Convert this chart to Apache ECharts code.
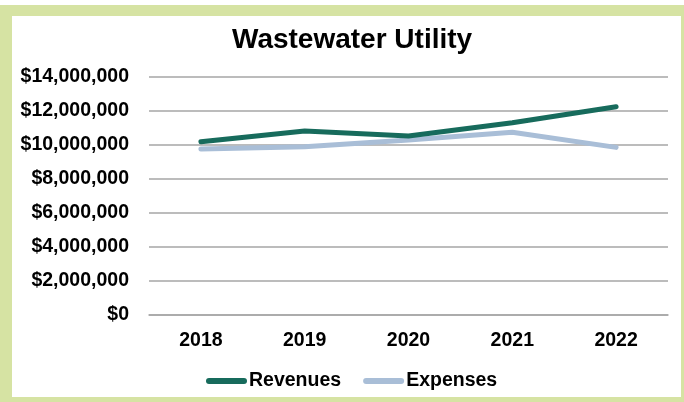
<!DOCTYPE html>
<html>
<head>
<meta charset="utf-8">
<script src="https://cdn.jsdelivr.net/npm/echarts@6/dist/echarts.min.js"></script>
<style>
html,body{margin:0;padding:0;background:#fff;}
#chart{width:684px;height:402px;}
</style>
</head>
<body>
<div id="chart"></div>
<script>
const chartTitle = 'Wastewater Utility';
const categories = ['2018', '2019', '2020', '2021', '2022'];
const revenues = [10190000, 10830000, 10530000, 11310000, 12250000];
const expenses = [9760000, 9900000, 10300000, 10750000, 9860000];
const seriesNames = ['Revenues', 'Expenses'];
const yTicks = [0, 2000000, 4000000, 6000000, 8000000, 10000000, 12000000, 14000000];

const FONT = "'Liberation Sans', Arial, Helvetica, sans-serif";
const BORDER = '#d6e3a3';
const capsule = 'path://M3,0 L38,0 A3,3 0 0 1 38,6 L3,6 A3,3 0 0 1 3,0 Z';

const chart = echarts.init(document.getElementById('chart'));
chart.setOption({
  backgroundColor: '#ffffff',
  animation: false,
  title: {
    text: chartTitle,
    left: 227,
    top: 21,
    textStyle: { fontFamily: FONT, fontWeight: 'bold', fontSize: 28, color: '#000' }
  },
  legend: {
    left: 201,
    top: 366,
    itemWidth: 41,
    itemHeight: 6,
    itemGap: 22,
    data: [
      { name: seriesNames[0], icon: capsule },
      { name: seriesNames[1], icon: capsule }
    ],
    textStyle: { fontFamily: FONT, fontWeight: 'bold', fontSize: 19.5, color: '#000', padding: [0, 0, 0, -3] }
  },
  grid: { left: 149, right: 16, top: 77, bottom: 87 },
  xAxis: {
    type: 'category',
    data: categories,
    boundaryGap: true,
    axisLine: { show: true, lineStyle: { color: '#a6a6a6', width: 1.5 } },
    axisTick: { show: false },
    axisLabel: { margin: 16, fontFamily: FONT, fontWeight: 'bold', fontSize: 19.5, color: '#000' }
  },
  yAxis: {
    type: 'value',
    min: yTicks[0],
    max: yTicks[yTicks.length - 1],
    interval: yTicks[1] - yTicks[0],
    axisLine: { show: false },
    axisTick: { show: false },
    splitLine: { lineStyle: { color: '#a6a6a6', width: 1.5 } },
    axisLabel: {
      margin: 20,
      fontFamily: FONT, fontWeight: 'bold', fontSize: 19.5, color: '#000',
      formatter: v => '$' + v.toLocaleString('en-US')
    }
  },
  series: [
    {
      name: seriesNames[0], type: 'line', data: revenues, showSymbol: false, symbol: 'none',
      color: '#176b5c',
      lineStyle: { width: 5, color: '#176b5c', cap: 'round', join: 'round' },
      z: 3
    },
    {
      name: seriesNames[1], type: 'line', data: expenses, showSymbol: false, symbol: 'none',
      color: '#a9bed7',
      lineStyle: { width: 5, color: '#a9bed7', cap: 'round', join: 'round' },
      z: 2
    }
  ],
  graphic: [
    { type: 'rect', shape: { x: 0, y: 5, width: 684, height: 11 }, style: { fill: BORDER }, silent: true },
    { type: 'rect', shape: { x: 0, y: 5, width: 12, height: 397 }, style: { fill: BORDER }, silent: true },
    { type: 'rect', shape: { x: 0, y: 397, width: 684, height: 5 }, style: { fill: BORDER }, silent: true },
    { type: 'rect', shape: { x: 681, y: 5, width: 3, height: 397 }, style: { fill: BORDER }, silent: true }
  ]
});
</script>
</body>
</html>
